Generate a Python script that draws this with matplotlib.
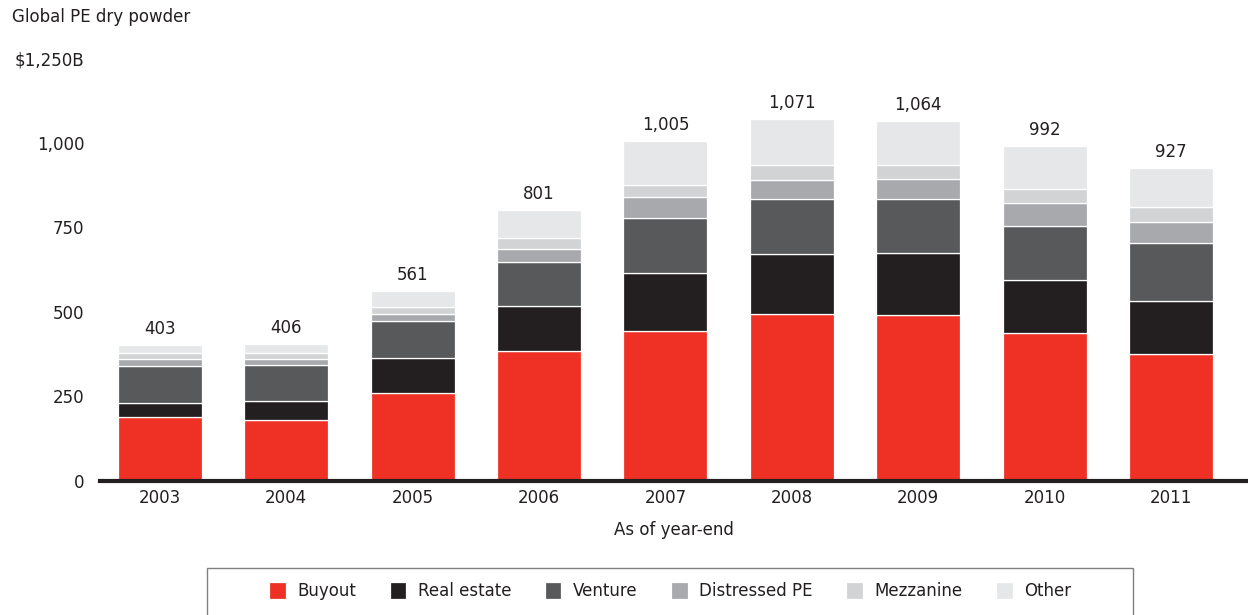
import matplotlib.pyplot as plt
from matplotlib.patches import Rectangle
import numpy as np

years = ["2003", "2004", "2005", "2006", "2007", "2008", "2009", "2010", "2011"]
buyout = [190, 180, 261, 385, 444, 493, 490, 437, 376]
real_estate = [40, 57, 102, 134, 171, 177, 185, 158, 157]
venture = [110, 105, 109, 128, 162, 164, 159, 160, 170]
distressed = [20, 18, 22, 38, 62, 56, 59, 68, 62]
mezzanine = [19, 18, 22, 35, 38, 44, 41, 41, 46]
other = [24, 28, 45, 81, 128, 137, 130, 128, 116]
totals = [403, 406, 561, 801, 1005, 1071, 1064, 992, 927]

series_names = ["Buyout", "Real estate", "Venture", "Distressed PE", "Mezzanine", "Other"]
y_ticks = [0, 250, 500, 750, 1000, 1250]
y_tick_labels = ["0", "250", "500", "750", "1,000", "$1,250B"]


def main():
    plt.rcParams["font.family"] = ["DejaVu Sans"]
    text_color = "#231f20"
    colors = ["#ee3124", "#231f20", "#58595b", "#a7a9ac", "#d1d3d4", "#e6e7e8"]
    series = [buyout, real_estate, venture, distressed, mezzanine, other]

    fig = plt.figure(figsize=(12.48, 6.15), dpi=100)
    ax = fig.add_axes([0.080, 0.218, 0.920, 0.687])

    x = np.arange(len(years))
    width = 0.665
    bottom = np.zeros(len(years))
    handles = []
    for vals, name, c in zip(series, series_names, colors):
        b = ax.bar(x, vals, width, bottom=bottom, color=c, edgecolor="white",
                   linewidth=0.9, label=name)
        handles.append(b)
        bottom += np.array(vals)

    # 柱顶总数
    for xi, t in zip(x, totals):
        ax.annotate(f"{t:,}", (xi, t), xytext=(0, 5), textcoords="offset points",
                    ha="center", va="bottom", fontsize=12, color=text_color)

    ax.set_xlim(-0.475, 8.61)
    ax.set_ylim(0, 1250)
    ax.set_yticks(y_ticks)
    ax.set_yticklabels(y_tick_labels)
    ax.set_xticks(x)
    ax.set_xticklabels(years)
    ax.tick_params(axis="y", length=0, pad=11, labelsize=12, labelcolor=text_color)
    ax.tick_params(axis="x", length=0, pad=6, labelsize=12, labelcolor=text_color)
    for s in ["left", "right", "top"]:
        ax.spines[s].set_visible(False)
    ax.spines["bottom"].set_linewidth(3)
    ax.spines["bottom"].set_color(text_color)
    ax.set_xlabel("As of year-end", fontsize=12, color=text_color, labelpad=10)

    fig.text(12 / 1248, 1 - 17 / 615, "Global PE dry powder", fontsize=12,
             color=text_color, ha="left", va="center")

    # 图例外框（底边被裁掉）
    fig.patches.append(Rectangle((207 / 1248, -0.05), 926 / 1248, 0.05 + 47 / 615,
                                 transform=fig.transFigure, facecolor="none",
                                 edgecolor="#808080", linewidth=1.0, clip_on=False))
    fig.legend(handles=handles, labels=series_names, loc="center",
               bbox_to_anchor=(0.537, 24 / 615), ncol=6, frameon=False,
               fontsize=12, handlelength=1.0, handleheight=1.2,
               handletextpad=0.7, columnspacing=2.0, labelcolor=text_color)

    plt.savefig("out.png", dpi=100)


if __name__ == "__main__":
    main()
